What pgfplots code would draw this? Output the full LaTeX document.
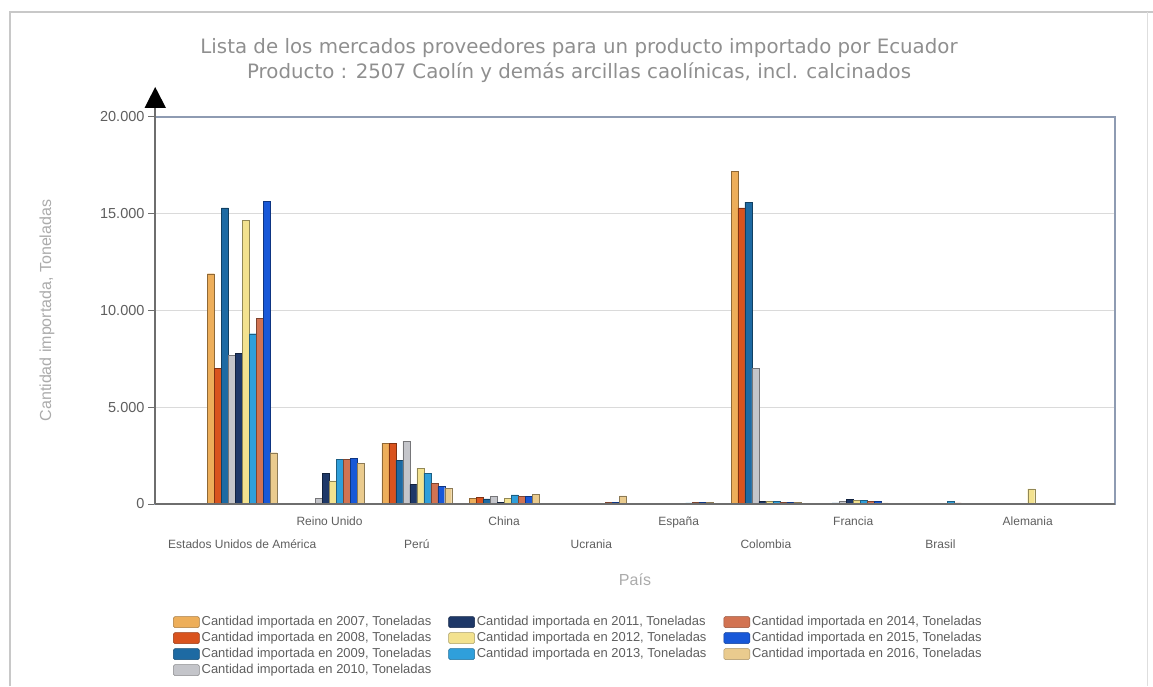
\documentclass[border=0pt]{standalone}
\usepackage{fontspec}
\setmainfont{Liberation Sans}
\newfontfamily\titlefont{DejaVu Sans}
\usepackage{pgfplots}
\pgfplotsset{compat=1.18}
\usepackage{pgfplotstable}

\definecolor{c2007}{HTML}{EDAE5A}
\definecolor{c2008}{HTML}{D9531E}
\definecolor{c2009}{HTML}{1D6AA3}
\definecolor{c2010}{HTML}{C4C5CA}
\definecolor{c2011}{HTML}{1E3868}
\definecolor{c2012}{HTML}{F3E28F}
\definecolor{c2013}{HTML}{2F9FDB}
\definecolor{c2014}{HTML}{D27352}
\definecolor{c2015}{HTML}{1858D8}
\definecolor{c2016}{HTML}{EACB8E}
\definecolor{boxline}{HTML}{8E9BB2}
\definecolor{axisdark}{HTML}{6E6E6E}
\definecolor{gridgray}{HTML}{DADADA}
\definecolor{titlegray}{HTML}{8F8F8F}
\definecolor{labelgray}{HTML}{ABABAB}
\definecolor{ticktext}{HTML}{5E5E5E}
\definecolor{frame}{HTML}{C8C8C8}

% imported tonnes, one column per year, rows = countries 0..9
\pgfplotstableread{
idx y2007 y2008 y2009 y2010 y2011 y2012 y2013 y2014 y2015 y2016
0 11900 7000 15300 7700 7800 14650 8800 9600 15650 2650
1 50 30 20 300 1600 1200 2300 2300 2350 2100
2 3150 3150 2250 3250 1000 1850 1600 1050 900 800
3 290 350 260 380 100 300 470 410 380 500
4 0 0 0 0 0 0 0 80 80 420
5 40 40 40 40 40 40 60 70 70 70
6 17200 15300 15600 7000 120 150 120 100 100 80
7 40 40 60 150 250 180 200 150 150 60
8 30 30 40 40 50 50 150 60 40 30
9 40 40 40 40 40 780 40 40 40 40
}\data

\pgfplotsset{
  sw/.style={legend image code/.code={\draw[fill=#1,draw=#1!70!black,line width=0.5pt,rounded corners=1.5pt] (0pt,-5.5pt) rectangle (26pt,5.5pt);}},
  yr/.style={ybar, bar width=0.08, fill=#1, draw=#1!60!black, line width=0.4pt, forget plot},
}

\begin{document}
\begin{tikzpicture}[x=1pt,y=1pt]
\useasboundingbox (0,0) rectangle (1153,686);
\draw[frame, line width=2pt] (10,0) -- (10,674) -- (1153,674);
\draw[frame!60, line width=1pt] (1147,674) -- (1147,0);

\begin{axis}[
    at={(155pt,182pt)}, anchor=south west,
    scale only axis, width=960pt, height=387pt,
    xmin=-1, xmax=10, ymin=0, ymax=20000,
    axis line style={draw=boxline, line width=1.2pt},
    ymajorgrids, grid style={gridgray, line width=0.8pt},
    scaled y ticks=false,
    ytick={0,5000,10000,15000,20000},
    yticklabels={0,5.000,10.000,15.000,20.000},
    ytick pos=left, tick align=outside,
    major tick length=7pt,
    y tick style={axisdark, line width=1pt},
    yticklabel style={font=\fontsize{14.5}{15}\selectfont, text=ticktext},
    xtick={1,3,5,7,9},
    xticklabels={Reino Unido, China, España, Francia, Alemania},
    x tick style={draw=none},
    xticklabel style={font=\fontsize{12}{13}\selectfont, text=ticktext, yshift=-2pt},
    extra x ticks={0,2,4,6,8},
    extra x tick labels={Estados Unidos de América, Perú, Ucrania, Colombia, Brasil},
    extra x tick style={major tick length=0pt, xticklabel style={yshift=-30pt}},
    title={Lista de los mercados proveedores para un producto importado por Ecuador\\Producto : 2507 Caolín y demás arcillas caolínicas, incl. calcinados},
    title style={at={(axis description cs:0.4417,1.130)}, anchor=center, align=center,
      font=\titlefont\fontsize{19.8}{25}\selectfont, text=titlegray},
    ylabel={Cantidad importada, Toneladas},
    ylabel style={at={(axis description cs:-0.1125,0.5)}, anchor=center,
      font=\fontsize{16}{16}\selectfont, text=labelgray},
    xlabel={País},
    xlabel style={at={(axis description cs:0.5,-0.196)}, anchor=center,
      font=\fontsize{16}{16}\selectfont, text=labelgray},
    legend columns=3,
    legend cell align=left,
    legend style={at={(axis description cs:0.0156,-0.284)}, anchor=north west,
      draw=none, fill=none, font=\fontsize{12.95}{13}\selectfont, text=ticktext,
      row sep=4pt,
      nodes={inner ysep=0pt, inner xsep=2pt, text height=9pt, text depth=3pt},
      /tikz/every even column/.append style={column sep=15pt}},
]
\addplot[yr=c2007, bar shift=-0.36] table[x=idx, y=y2007] {\data};
\addplot[yr=c2008, bar shift=-0.28] table[x=idx, y=y2008] {\data};
\addplot[yr=c2009, bar shift=-0.20] table[x=idx, y=y2009] {\data};
\addplot[yr=c2010, bar shift=-0.12] table[x=idx, y=y2010] {\data};
\addplot[yr=c2011, bar shift=-0.04] table[x=idx, y=y2011] {\data};
\addplot[yr=c2012, bar shift=0.04] table[x=idx, y=y2012] {\data};
\addplot[yr=c2013, bar shift=0.12] table[x=idx, y=y2013] {\data};
\addplot[yr=c2014, bar shift=0.20] table[x=idx, y=y2014] {\data};
\addplot[yr=c2015, bar shift=0.28] table[x=idx, y=y2015] {\data};
\addplot[yr=c2016, bar shift=0.36] table[x=idx, y=y2016] {\data};

\addlegendimage{sw=c2007}\addlegendentry{Cantidad importada en 2007, Toneladas}
\addlegendimage{sw=c2011}\addlegendentry{Cantidad importada en 2011, Toneladas}
\addlegendimage{sw=c2014}\addlegendentry{Cantidad importada en 2014, Toneladas}
\addlegendimage{sw=c2008}\addlegendentry{Cantidad importada en 2008, Toneladas}
\addlegendimage{sw=c2012}\addlegendentry{Cantidad importada en 2012, Toneladas}
\addlegendimage{sw=c2015}\addlegendentry{Cantidad importada en 2015, Toneladas}
\addlegendimage{sw=c2009}\addlegendentry{Cantidad importada en 2009, Toneladas}
\addlegendimage{sw=c2013}\addlegendentry{Cantidad importada en 2013, Toneladas}
\addlegendimage{sw=c2016}\addlegendentry{Cantidad importada en 2016, Toneladas}
\addlegendimage{sw=c2010}\addlegendentry{Cantidad importada en 2010, Toneladas}
\end{axis}

% dark left and bottom axis lines with the arrow head on top
\draw[axisdark, line width=1.6pt] (155,182) -- (1115,182);
\draw[axisdark, line width=1.8pt] (155,182) -- (155,580);
\fill[black] (144.5,578) -- (166,578) -- (155.2,599) -- cycle;
\end{tikzpicture}
\end{document}
